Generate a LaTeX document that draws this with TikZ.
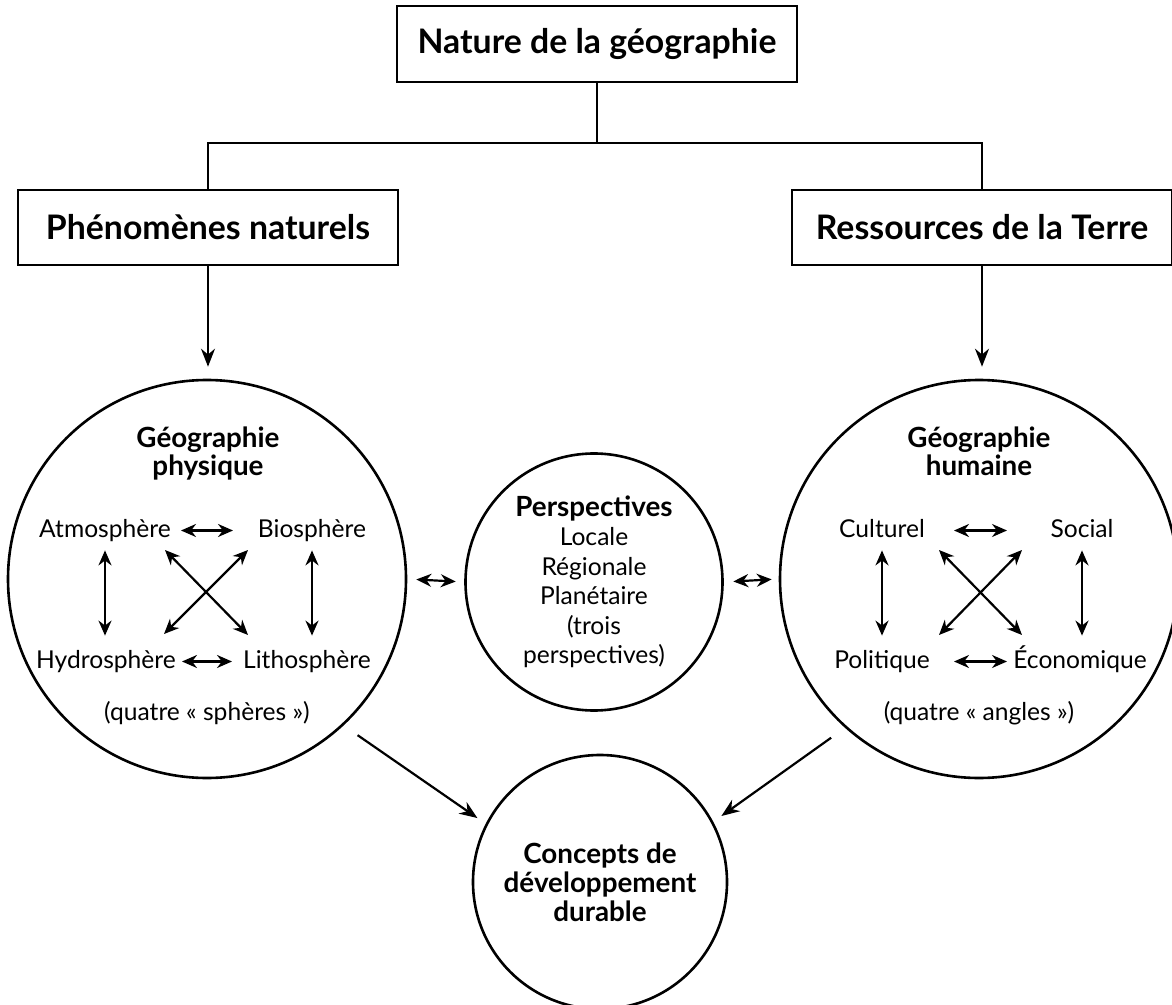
\documentclass[tikz,border=0pt]{standalone}
\usepackage{fontspec}
\setmainfont{Lato}
\usetikzlibrary{arrows.meta,calc}

\begin{document}
\begin{tikzpicture}[x=0.5pt,y=-0.5pt,
	every node/.style={font=\fontsize{12.3}{14.75}\selectfont},
	titlebox/.style={draw,line width=1.3pt,minimum width=190pt,minimum height=37.5pt,font=\fontsize{16.9}{19}\selectfont\bfseries},
	sphere/.style={draw,circle,line width=1.3pt,inner sep=0pt,align=center},
	term/.style={anchor=base,inner sep=0pt,text height=9pt,text depth=2.5pt},
	head/.style={anchor=base,align=center,inner sep=0pt,font=\fontsize{13.9}{14}\selectfont\bfseries},
	arr/.style={-{Stealth[length=9pt,width=7pt]},line width=1.1pt},
	dbl/.style={{Stealth[length=7.5pt,width=6.5pt]}-{Stealth[length=7.5pt,width=6.5pt]},line width=1.1pt}]
	\useasboundingbox (0,0) rectangle (1172,1005);

	\node[titlebox,minimum width=200pt,minimum height=38pt] (nat) at (597,44) {Nature de la géographie};
	\node[titlebox] (phen) at (208,227.5) {Phénomènes naturels};
	\node[titlebox] (res) at (982,227.5) {Ressources de la Terre};

	\draw[line width=1.1pt] (nat.south) -- ++(0,60) coordinate (fork);
	\draw[line width=1.1pt] (fork) -| (phen.north);
	\draw[line width=1.1pt] (fork) -| (res.north);

	\node[sphere,minimum size=199pt] (phys) at (207,579) {};
	\node[sphere,minimum size=199pt] (hum) at (979,579) {};
	\node[sphere,minimum size=128.5pt] (persp) at (594,582) {{\fontsize{13.9}{14.75}\selectfont\bfseries Perspectives}\\Locale\\Régionale\\Planétaire\\(trois\\perspectives)};
	\node[sphere,minimum size=127pt,font=\fontsize{13.9}{14.6}\selectfont\bfseries] (dur) at (600,882) {Concepts de\\développement\\durable};

	\draw[arr,shorten >=6pt] (phen.south) -- (phen.south |- phys.north);
	\draw[arr,shorten >=6pt] (res.south) -- (res.south |- hum.north);

	\node[head] (physh) at (208,475) {Géographie\\physique};
	\node[term] (atm) at (105,537) {Atmosphère};
	\node[term] (bio) at (312,537) {Biosphère};
	\node[term] (hyd) at (106,668) {Hydrosphère};
	\node[term] (lith) at (307,668) {Lithosphère};
	\node[term] (sph) at (207,720) {(quatre « sphères »)};

	\draw[dbl] ($(phys.center |- atm.center)+(-26,0)$) -- ($(phys.center |- atm.center)+(26,0)$);
	\draw[dbl] ($(phys.center |- hyd.center)+(-25,0)$) -- ($(phys.center |- hyd.center)+(25,0)$);
	\draw[dbl,shorten <=4pt,shorten >=7pt] (atm.south) -- (atm.south |- hyd.north);
	\draw[dbl,shorten <=4pt,shorten >=7pt] (bio.south) -- (bio.south |- lith.north);
	\draw[dbl] ($(phys)+(-42,-29)$) -- ($(phys)+(41,56)$);
	\draw[dbl] ($(phys)+(41,-29)$) -- ($(phys)+(-43,55)$);

	\node[head] (humh) at (979,475) {Géographie\\humaine};
	\node[term] (cult) at (882,537) {Culturel};
	\node[term] (soc) at (1082,537) {Social};
	\node[term] (pol) at (882,668) {Politique};
	\node[term] (eco) at (1080,668) {Économique};
	\node[term] (ang) at (979,720) {(quatre « angles »)};

	\draw[dbl] ($(hum.center |- cult.center)+(-25,0)$) -- ($(hum.center |- cult.center)+(28,0)$);
	\draw[dbl] ($(hum.center |- pol.center)+(-25,0)$) -- ($(hum.center |- pol.center)+(28,0)$);
	\draw[dbl,shorten <=4pt,shorten >=7pt] (cult.south) -- (cult.south |- pol.north);
	\draw[dbl,shorten <=4pt,shorten >=7pt] (soc.south) -- (soc.south |- eco.north);
	\draw[dbl] ($(hum)+(-40,-29)$) -- ($(hum)+(43,56)$);
	\draw[dbl] ($(hum)+(43,-29)$) -- ($(hum)+(-40,56)$);

	\draw[dbl,shorten <=4.5pt,shorten >=4.25pt] (phys.east) -- (persp.west);
	\draw[dbl,shorten <=4.75pt,shorten >=3.5pt] (persp.east) -- (hum.west);

	\draw[arr,shorten <=8.5pt,shorten >=5pt] (phys.-47.6) -- (dur.153.6);
	\draw[arr,shorten <=8.5pt,shorten >=5pt] (hum.-132.4) -- (dur.28.4);
\end{tikzpicture}
\end{document}
